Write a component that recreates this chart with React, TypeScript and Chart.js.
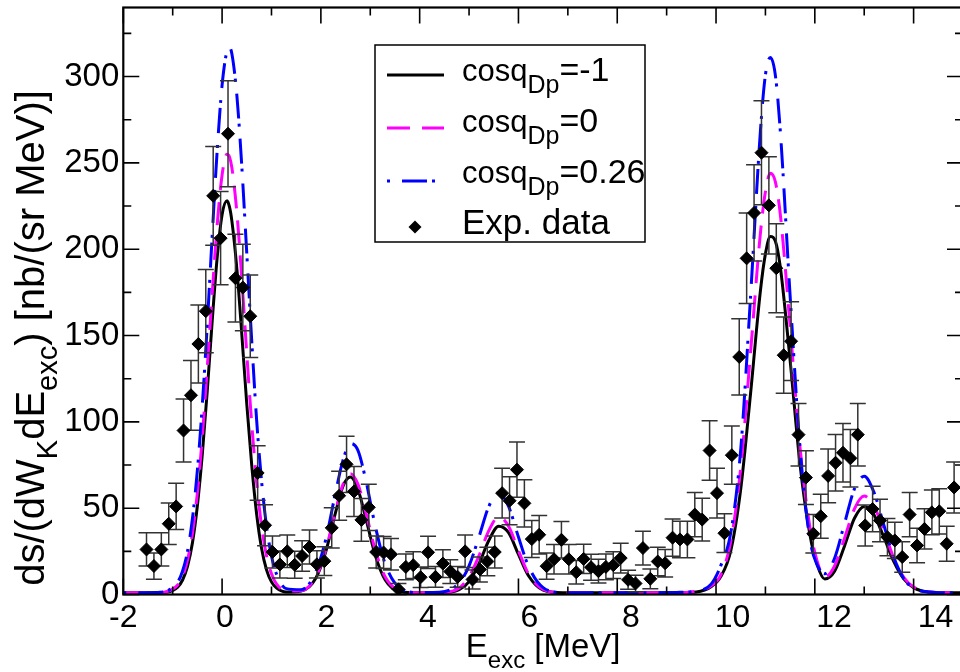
import React, { useEffect, useRef } from 'react';
import { Chart, registerables } from 'chart.js';

Chart.register(...registerables);

const FONT = "'Liberation Sans', Arial, Helvetica, sans-serif";
const CANVAS_W = 980;
const CANVAS_H = 672;

// ---------- data ----------
const curveX = [
  -2.0, -1.6, -1.3, -1.1, -0.9, -0.8, -0.7, -0.6, -0.5, -0.4,
  -0.3, -0.2, -0.1, 0.0, 0.1, 0.15, 0.2, 0.3, 0.4, 0.5, 0.6,
  0.7, 0.8, 0.9, 1.0, 1.1, 1.3, 1.6, 1.9, 2.1, 2.3,
  2.45, 2.6, 2.75, 2.9, 3.1, 3.3, 3.6, 4.0, 4.4, 4.8,
  5.0, 5.2, 5.4, 5.6, 5.8, 6.0, 6.2, 6.5, 6.9, 7.5,
  8.5, 9.2, 9.6, 9.9, 10.1, 10.3, 10.5, 10.7, 10.9, 11.0,
  11.1, 11.2, 11.3, 11.5, 11.7, 11.9, 12.05, 12.2, 12.4, 12.6,
  12.8, 13.0, 13.2, 13.4, 13.6, 13.8, 14.0, 14.3, 14.7, 15.0,
];

const cosMinus1 = [
  1.0, 1.0, 1.1, 1.5, 4.3, 8.4, 16.3, 30, 51.5, 81.5,
  118, 158.5, 195, 220, 228, 224.5, 216, 188.4, 150.4, 110.2, 75,
  46.5, 26.7, 14.3, 7.3, 3.8, 1.4, 2.0, 9.6, 24.9, 47.8,
  62.9, 68, 61, 45.3, 22.8, 8.5, 1.6, 1.0, 1.0, 2.8,
  7.5, 17.8, 31.3, 39.5, 35.8, 23.2, 11, 2.5, 1.0, 1.0,
  1.0, 1.0, 1.5, 4.5, 10.5, 25.5, 61, 116.7, 176.3, 197.3,
  207.4, 204.8, 190, 135.6, 75.4, 34.8, 17, 9, 13.5, 28,
  44, 51, 46, 33, 19, 9, 4, 1.4, 1.0, 1.0,
];

const cos0 = [
  1.0, 1.0, 1.1, 1.8, 5.5, 10.5, 19.9, 35.5, 59, 91.5,
  131.5, 174.2, 214, 243, 255, 253.4, 246.9, 221, 182.6, 139.4, 99,
  65, 39.5, 22.4, 12, 6.2, 2.0, 2.2, 10.3, 25.9, 48.8,
  63.9, 70, 63.9, 48.8, 25.9, 10.3, 2.2, 1.0, 1.1, 3.8,
  10.2, 22.4, 37, 45, 39.5, 25.4, 12.1, 2.9, 1.0, 1.0,
  1.0, 1.0, 2.0, 5, 11.5, 31, 73.4, 140.6, 209.8, 233.3,
  244, 239.2, 220.5, 155.4, 85.3, 39, 19, 10, 16.5, 32.5,
  49.5, 57, 51, 37, 21, 10, 4.3, 1.5, 1.0, 1.0,
];

const cos026 = [
  1.0, 1.0, 1.2, 2.2, 7.1, 13.6, 25, 44, 72, 110,
  156.3, 207.9, 256.8, 295, 315, 317, 312.9, 288.8, 247.6, 197.5, 147,
  100.8, 65.5, 39.4, 22.3, 12, 3.4, 2.8, 13.4, 32, 59.4,
  78, 87.5, 83.5, 67.5, 39.8, 17.9, 3.8, 1.1, 1.3, 6.6,
  16.6, 33.3, 51, 59, 51, 33.3, 16.6, 4, 1.1, 1.0,
  1.0, 1.2, 2, 6, 17, 36, 84, 173, 269, 301,
  311, 301, 269, 173, 85, 32, 17, 12, 21, 41,
  61, 68.5, 59, 40, 21.4, 9.3, 3.6, 1.5, 1.0, 1.0,
];

const expX = [
  -1.53, -1.38, -1.23, -1.08, -0.93, -0.78, -0.63, -0.48, -0.33, -0.18,
  -0.03, 0.12, 0.27, 0.42, 0.57, 0.72, 0.87, 1.02, 1.17, 1.32,
  1.47, 1.62, 1.77, 1.92, 2.07, 2.22, 2.37, 2.52, 2.67, 2.82,
  2.97, 3.12, 3.27, 3.42, 3.57, 3.72, 3.87, 4.02, 4.17, 4.32,
  4.47, 4.62, 4.77, 4.92, 5.07, 5.22, 5.37, 5.52, 5.67, 5.82,
  5.97, 6.12, 6.27, 6.42, 6.57, 6.72, 6.87, 7.02, 7.17, 7.32,
  7.47, 7.62, 7.77, 7.92, 8.07, 8.22, 8.37, 8.52, 8.67, 8.82,
  8.97, 9.12, 9.27, 9.42, 9.57, 9.72, 9.87, 10.02, 10.17, 10.32,
  10.47, 10.62, 10.77, 10.92, 11.07, 11.22, 11.37, 11.52, 11.67, 11.82,
  11.97, 12.12, 12.27, 12.42, 12.57, 12.72, 12.87, 13.02, 13.17, 13.32,
  13.47, 13.62, 13.77, 13.92, 14.07, 14.22, 14.37, 14.52, 14.67, 14.82,
];

const expY = [
  26.1, 16.5, 26.1, 41.0, 51.0, 95.0, 115.4, 145.1, 164.1, 230.9,
  206.4, 266.9, 183.2, 177.8, 161.2, 70.4, 40.1, 24.6, 17.4, 25.0,
  17.2, 22.3, 27.5, 17.5, 19.3, 38.6, 57.2, 75.4, 59.7, 43.2,
  50.5, 24.6, 24.3, 23.3, 3.0, 16.0, 17.0, 10.0, 24.4, 10.2,
  17.9, 13.3, 10.2, 25.0, 8.7, 14.5, 19.1, 24.6, 58.7, 54.3,
  72.3, 52.8, 32.1, 34.6, 16.4, 20.4, 31.7, 20.4, 12.9, 20.6,
  15.8, 13.5, 16.0, 17.0, 21.1, 8.5, 6.4, 26.9, 9.1, 19.1,
  18.1, 32.9, 31.9, 31.9, 46.3, 43.4, 83.4, 58.7, 35.5, 80.7,
  137.6, 194.7, 221.0, 255.9, 225.4, 189.0, 138.6, 146.7, 92.6, 67.7,
  35.2, 45.3, 68.7, 76.3, 82.1, 78.9, 92.6, 40.0, 49.5, 42.8,
  33.2, 31.3, 21.7, 46.3, 28.4, 38.0, 47.6, 48.2, 29.4, 62.0,
];

const expErr = [
  9.6, 7.6, 9.6, 12.0, 13.4, 18.3, 20.2, 22.6, 24.1, 28.6,
  27.0, 30.7, 25.4, 25.1, 23.9, 15.8, 11.9, 9.3, 7.8, 9.4,
  7.8, 8.9, 9.9, 7.9, 8.3, 11.7, 14.2, 16.3, 14.5, 12.4,
  13.4, 9.3, 9.3, 9.1, 3.3, 7.5, 7.8, 5.9, 9.3, 6.0,
  8.0, 6.9, 6.0, 9.4, 5.5, 7.2, 8.2, 9.3, 14.4, 13.9,
  16.0, 13.7, 10.7, 11.1, 7.6, 8.5, 10.6, 8.5, 6.8, 8.5,
  7.5, 6.9, 7.5, 7.8, 8.6, 5.5, 4.8, 9.8, 5.7, 8.2,
  8.0, 10.8, 10.6, 10.6, 12.8, 12.4, 17.2, 14.4, 11.2, 16.9,
  22.1, 26.2, 27.9, 30.1, 28.2, 25.8, 22.1, 22.8, 18.1, 15.5,
  11.2, 12.7, 15.6, 16.4, 17.0, 16.7, 18.1, 11.9, 13.2, 12.3,
  10.8, 10.5, 8.8, 12.8, 10.0, 11.6, 13.0, 13.1, 10.2, 14.8,
];

const xLabelTicks = [-2, 0, 2, 4, 6, 8, 10, 12, 14];
const xMajorTicks = [-2, 0, 2, 4, 6, 8, 10, 12, 14];
const xMinorTicks = [-1, 1, 3, 5, 7, 9, 11, 13];
const yMajorTicks = [0, 50, 100, 150, 200, 250, 300];
const yMinorTicks = [25, 75, 125, 175, 225, 275, 325];

const legendLabels = [
  { main: 'cosq', sub: 'Dp', rest: '=-1' },
  { main: 'cosq', sub: 'Dp', rest: '=0' },
  { main: 'cosq', sub: 'Dp', rest: '=0.26' },
  { main: 'Exp. data', sub: '', rest: '' },
];

const xTitle = [
  { t: 'E', sub: false },
  { t: 'exc', sub: true },
  { t: ' [MeV]', sub: false },
];
const yTitle = [
  { t: 'ds/(dW', sub: false },
  { t: 'K', sub: true },
  { t: 'dE', sub: false },
  { t: 'exc', sub: true },
  { t: ') [nb/(sr MeV)]', sub: false },
];

// ---------- styles ----------
const BLACK = '#000000';
const MAGENTA = '#ff00ff';
const BLUE = '#0000ff';
const DASH_MAGENTA = [23, 12];
const DASH_BLUE = [3, 12, 25, 5];

type Part = { t: string; sub: boolean; size?: number };

function drawParts(ctx: CanvasRenderingContext2D, parts: Part[], x: number, y: number, size: number, subSize: number, subDy: number, measureOnly = false) {
  let cx = x;
  for (const p of parts) {
    const s = p.size ?? (p.sub ? subSize : size);
    ctx.font = `${s}px ${FONT}`;
    if (!measureOnly) ctx.fillText(p.t, cx, y + (p.sub ? subDy : 0));
    cx += ctx.measureText(p.t).width;
  }
  return cx - x;
}

const errorBarsPlugin = {
  id: 'errorBars',
  beforeDatasetDraw(chart: any, args: any) {
    if (args.index !== 3) return;
    const { ctx } = chart;
    const x = chart.scales.x;
    const y = chart.scales.y;
    ctx.save();
    ctx.strokeStyle = '#333333';
    ctx.lineWidth = 1.5;
    ctx.beginPath();
    for (let i = 0; i < expX.length; i++) {
      const px = x.getPixelForValue(expX[i]);
      const top = y.getPixelForValue(expY[i] + expErr[i]);
      const bot = y.getPixelForValue(Math.max(expY[i] - expErr[i], 0));
      ctx.moveTo(px, top);
      ctx.lineTo(px, bot);
      ctx.moveTo(px - 8, top);
      ctx.lineTo(px + 8, top);
      ctx.moveTo(px - 8, bot);
      ctx.lineTo(px + 8, bot);
    }
    ctx.stroke();
    ctx.restore();
  },
};

const framePlugin = {
  id: 'frameTicks',
  afterDraw(chart: any) {
    const { ctx, chartArea } = chart;
    const { left, right, top, bottom } = chartArea;
    const x = chart.scales.x;
    const y = chart.scales.y;
    ctx.save();
    ctx.strokeStyle = '#000';
    ctx.lineWidth = 1.6;
    ctx.beginPath();
    const major = 16;
    const minor = 8;
    for (const v of xMajorTicks) {
      const p = x.getPixelForValue(v);
      ctx.moveTo(p, bottom); ctx.lineTo(p, bottom - major);
      ctx.moveTo(p, top); ctx.lineTo(p, top + major);
    }
    for (const v of xMinorTicks) {
      const p = x.getPixelForValue(v);
      ctx.moveTo(p, bottom); ctx.lineTo(p, bottom - minor);
      ctx.moveTo(p, top); ctx.lineTo(p, top + minor);
    }
    for (const v of yMajorTicks) {
      const p = y.getPixelForValue(v);
      ctx.moveTo(left, p); ctx.lineTo(left + major, p);
      ctx.moveTo(right, p); ctx.lineTo(right - major, p);
    }
    for (const v of yMinorTicks) {
      const p = y.getPixelForValue(v);
      ctx.moveTo(left, p); ctx.lineTo(left + minor, p);
      ctx.moveTo(right, p); ctx.lineTo(right - minor, p);
    }
    ctx.stroke();
    ctx.lineWidth = 2.2;
    ctx.strokeRect(left, top, right - left, bottom - top);

    // axis titles
    ctx.fillStyle = '#000';
    ctx.textBaseline = 'alphabetic';
    ctx.textAlign = 'left';
    const xw = drawParts(ctx, xTitle, 0, 0, 33, 24, 11, true);
    const cxm = (left + right) / 2;
    drawParts(ctx, xTitle, cxm - xw / 2, 657, 33, 24, 11);

    ctx.save();
    ctx.translate(44, 338);
    ctx.rotate(-Math.PI / 2);
    const yw = drawParts(ctx, yTitle, 0, 0, 40, 29, 13, true);
    drawParts(ctx, yTitle, -yw / 2, 0, 40, 29, 13);
    ctx.restore();

    // legend
    const bx = 375, by = 45, bw = 270, bh = 197;
    ctx.fillStyle = '#fff';
    ctx.fillRect(bx, by, bw, bh);
    ctx.lineWidth = 1.5;
    ctx.strokeStyle = '#000';
    ctx.strokeRect(bx, by, bw, bh);
    const symY = [75, 128, 181, 227];
    const txtY = [81, 132, 183, 234];
    const colors = [BLACK, MAGENTA, BLUE];
    const dashes = [[], DASH_MAGENTA, DASH_BLUE];
    for (let i = 0; i < 3; i++) {
      ctx.save();
      ctx.strokeStyle = colors[i];
      ctx.lineWidth = 3;
      ctx.setLineDash(dashes[i]);
      ctx.beginPath();
      ctx.moveTo(387, symY[i]);
      ctx.lineTo(444, symY[i]);
      ctx.stroke();
      ctx.restore();
    }
    ctx.fillStyle = '#000';
    ctx.beginPath();
    const r = 6.5;
    ctx.moveTo(415 - r, symY[3]);
    ctx.lineTo(415, symY[3] - r);
    ctx.lineTo(415 + r, symY[3]);
    ctx.lineTo(415, symY[3] + r);
    ctx.closePath();
    ctx.fill();
    for (let i = 0; i < legendLabels.length; i++) {
      const l = legendLabels[i];
      const parts: Part[] = [];
      if (l.sub) {
        parts.push({ t: l.main, sub: false, size: 31 });
        parts.push({ t: l.sub, sub: true, size: 25 });
        parts.push({ t: l.rest, sub: false, size: 34 });
      } else {
        parts.push({ t: l.main, sub: false, size: 35 });
      }
      drawParts(ctx, parts, 462, txtY[i], 34, 25, 12);
    }
    ctx.restore();
  },
};

const toXY = (xs: number[], ys: number[]) => xs.map((v, i) => ({ x: v, y: ys[i] }));

export default function App() {
  const ref = useRef<HTMLCanvasElement>(null);
  useEffect(() => {
    const canvas = ref.current;
    if (!canvas) return;
    const chart = new Chart(canvas, {
      type: 'scatter',
      data: {
        datasets: [
          {
            label: 'cos=-1',
            data: toXY(curveX, cosMinus1),
            showLine: true,
            borderColor: BLACK,
            borderWidth: 3,
            pointRadius: 0,
            cubicInterpolationMode: 'monotone',
            order: 3,
          },
          {
            label: 'cos=0',
            data: toXY(curveX, cos0),
            showLine: true,
            borderColor: MAGENTA,
            borderWidth: 3,
            borderDash: DASH_MAGENTA,
            pointRadius: 0,
            cubicInterpolationMode: 'monotone',
            order: 2,
          },
          {
            label: 'cos=0.26',
            data: toXY(curveX, cos026),
            showLine: true,
            borderColor: BLUE,
            borderWidth: 3,
            borderDash: DASH_BLUE,
            pointRadius: 0,
            cubicInterpolationMode: 'monotone',
            order: 1,
          },
          {
            label: 'Exp. data',
            data: toXY(expX, expY),
            showLine: false,
            pointStyle: 'rectRot',
            pointRadius: 6.5,
            pointBackgroundColor: '#000',
            pointBorderColor: '#000',
            pointBorderWidth: 1,
            order: 0,
          },
        ],
      } as any,
      options: {
        animation: false,
        responsive: false,
        devicePixelRatio: 1,
        events: [],
        layout: { padding: { left: 0, right: CANVAS_W - 963, top: 3.5, bottom: 0 } },
        plugins: { legend: { display: false }, tooltip: { enabled: false } },
        scales: {
          x: { type: 'linear', min: -2, max: 15, display: false },
          xl: {
            type: 'linear',
            position: 'bottom',
            min: -2,
            max: 14.54,
            afterBuildTicks: (s: any) => { s.ticks = xLabelTicks.map((v) => ({ value: v })); },
            afterFit: (s: any) => { s.height = CANVAS_H - 594.5; s.paddingLeft = 0; s.paddingRight = 0; },
            grid: { display: false, drawTicks: false },
            border: { display: false },
            ticks: {
              color: '#000',
              font: { family: FONT, size: 32 },
              padding: 4,
              maxRotation: 0,
              autoSkip: false,
              callback: (v: any) => String(v),
            },
          },
          y: {
            type: 'linear',
            min: 0,
            max: 340,
            afterBuildTicks: (s: any) => { s.ticks = yMajorTicks.map((v) => ({ value: v })); },
            afterFit: (s: any) => { s.width = 123.3; s.paddingTop = 0; s.paddingBottom = 0; },
            grid: { display: false, drawTicks: false },
            border: { display: false },
            ticks: {
              color: '#000',
              font: { family: FONT, size: 33 },
              padding: 4,
              autoSkip: false,
              callback: (v: any) => String(v),
            },
          },
        },
      } as any,
      plugins: [errorBarsPlugin, framePlugin],
    });
    return () => chart.destroy();
  }, []);
  return (
    <div style={{ position: 'fixed', left: 0, top: 0, width: 960, height: CANVAS_H, overflow: 'hidden', background: '#fff' }}>
      <canvas ref={ref} width={CANVAS_W} height={CANVAS_H} style={{ display: 'block', width: CANVAS_W, height: CANVAS_H }} />
    </div>
  );
}
